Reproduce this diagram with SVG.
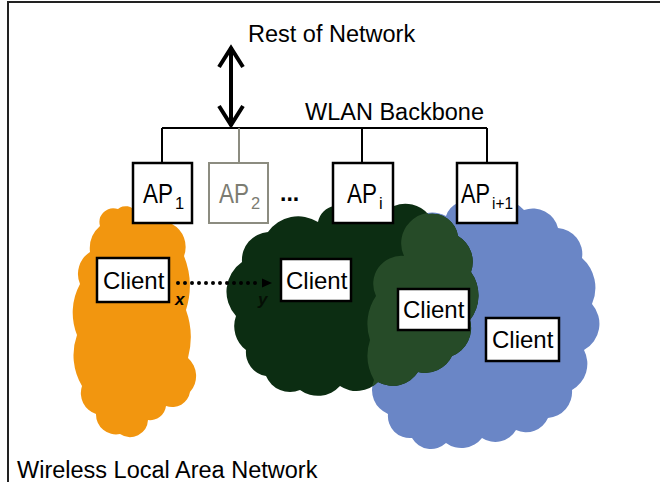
<svg xmlns="http://www.w3.org/2000/svg" xmlns:xlink="http://www.w3.org/1999/xlink" width="660" height="482" viewBox="0 0 660 482">
<style>
text{font-family:"Liberation Sans",Arial,sans-serif;fill:#000}
.big{font-size:23.5px}
.ap{font-size:28px}
.sub{font-size:16.5px}
.cl{font-size:24px}
.box{fill:#fff;stroke:#000;stroke-width:2.5}
.gray{fill:#7c7c72}
.grayBox{fill:#fff;stroke:#8c8c80;stroke-width:2}
.wire{stroke:#000;stroke-width:2;fill:none}
</style>
<defs>
<path id="orangeShape" d="M100 226 A14 14 0 0 1 118 209 A12 12 0 0 1 136 212 A30 30 0 0 1 172 224 A26 26 0 0 1 184 256 A80 80 0 0 1 186 310 A80 80 0 0 1 188 358 A24 24 0 0 1 190 392 A18 18 0 0 1 166 406 A16 16 0 0 1 148 420 A18 18 0 0 1 120 434 A20 20 0 0 1 96 414 A22 22 0 0 1 82 386 A60 60 0 0 1 77 335 A60 60 0 0 1 80 284 A26 26 0 0 1 90 252 A30 30 0 0 1 100 226 Z"/>
<path id="greenShape" d="M242 262 A28 28 0 0 1 268 232 A37 37 0 0 1 318 222 A20 20 0 0 1 334 206 A60 60 0 0 1 394 206 A30 30 0 0 1 428 214 A26 26 0 0 1 458 236 A30 30 0 0 1 471 272 A40 40 0 0 1 470 320 A30 30 0 0 1 452 356 A30 30 0 0 1 418 372 A30 30 0 0 1 378 382 A30 30 0 0 1 340 386 A30 30 0 0 1 300 390 A26 26 0 0 1 266 376 A24 24 0 0 1 246 350 A30 30 0 0 1 236 316 A36 36 0 0 1 242 262 Z"/>
<path id="blueShape" d="M404 256 A30 30 0 0 1 410 222 A30 30 0 0 1 446 216 A22 22 0 0 1 476 203 A40 40 0 0 1 524 210 A26 26 0 0 1 558 228 A26 26 0 0 1 582 258 A40 40 0 0 1 592 304 A30 30 0 0 1 584 350 A30 30 0 0 1 572 390 A26 26 0 0 1 548 418 A24 24 0 0 1 516 430 A24 24 0 0 1 482 438 A26 26 0 0 1 446 443 A22 22 0 0 1 412 438 A22 22 0 0 1 388 414 A26 26 0 0 1 374 380 A50 50 0 0 1 370 340 A50 50 0 0 1 376 296 A28 28 0 0 1 404 256 Z"/>
<clipPath id="greenClip"><use xlink:href="#greenShape"/></clipPath>
<marker id="chev" markerUnits="userSpaceOnUse" markerWidth="40" markerHeight="40" viewBox="-25 -20 40 40" refX="0" refY="0" orient="auto-start-reverse" overflow="visible">
<path d="M-20 -12 L-1 0 L-20 12" fill="none" stroke="#000" stroke-width="4"/>
</marker>
<marker id="tri" markerUnits="userSpaceOnUse" markerWidth="12" markerHeight="12" viewBox="0 -6 12 12" refX="0" refY="0" orient="auto" overflow="visible">
<path d="M0 -4.5 L10 0 L0 4.5 Z" fill="#000"/>
</marker>
</defs>
<rect width="660" height="482" fill="#fff"/>
<g id="frame" fill="none" stroke="#222" stroke-width="2">
<path d="M8 482 V2 H660"/>
</g>
<g id="clouds">
<use id="cloud-ap1" xlink:href="#orangeShape" fill="#f2960f"/>
<use id="cloud-apip1" xlink:href="#blueShape" fill="#6a86c6"/>
<use id="cloud-api" xlink:href="#greenShape" fill="#0c2d12"/>
<use id="cloud-overlap" xlink:href="#blueShape" fill="#264b28" clip-path="url(#greenClip)"/>
</g>
<g id="connectors">
<path class="wire" d="M162 128 H487 M162 128 V163 M362 128 V163 M487 128 V163"/>
<path d="M239 128 V163" stroke="#8c8c80" stroke-width="2" fill="none"/>
<path d="M231 47 V126" stroke="#000" stroke-width="4" fill="none" marker-start="url(#chev)" marker-end="url(#chev)"/>
<path d="M178 283 H262" stroke="#000" stroke-width="4" stroke-linecap="round" stroke-dasharray="0 7" fill="none" marker-end="url(#tri)"/>
</g>
<g id="rest-of-network"><text class="big" x="248" y="42">Rest of Network</text></g>
<g id="backbone-label"><text class="big" x="305" y="120">WLAN Backbone</text></g>
<g id="ap1">
<rect class="box" x="133" y="163" width="59" height="60" stroke-width="2"/>
<text class="ap" x="143" y="203" textLength="30" lengthAdjust="spacingAndGlyphs">AP</text>
<text class="sub" x="175" y="209">1</text>
</g>
<g id="ap2">
<rect class="grayBox" x="209" y="163" width="59" height="60"/>
<text class="ap gray" x="219" y="203" textLength="30" lengthAdjust="spacingAndGlyphs">AP</text>
<text class="sub gray" x="251" y="209">2</text>
</g>
<g id="ellipsis"><text x="280" y="201" style="font-size:23px;font-weight:bold">...</text></g>
<g id="api">
<rect class="box" x="333" y="163" width="60" height="60" stroke-width="2"/>
<text class="ap" x="347" y="203" textLength="30" lengthAdjust="spacingAndGlyphs">AP</text>
<text class="sub" x="379" y="209">i</text>
</g>
<g id="apip1">
<rect class="box" x="457" y="163" width="60" height="60" stroke-width="2"/>
<text class="ap" x="461" y="203" textLength="29" lengthAdjust="spacingAndGlyphs">AP</text>
<text class="sub" x="492" y="209" textLength="21" lengthAdjust="spacingAndGlyphs">i+1</text>
</g>
<g id="client1">
<rect class="box" x="97" y="258" width="72" height="44"/>
<text class="cl" x="103" y="289">Client</text>
</g>
<g id="client2">
<rect class="box" x="281" y="259" width="70" height="42"/>
<text class="cl" x="286" y="289">Client</text>
</g>
<g id="client3">
<rect class="box" x="398" y="289" width="71" height="41"/>
<text class="cl" x="403" y="318">Client</text>
</g>
<g id="client4">
<rect class="box" x="486" y="318" width="73" height="43"/>
<text class="cl" x="492" y="348">Client</text>
</g>
<g id="labels">
<text x="175" y="305" style="font-size:17px;font-weight:bold;font-style:italic">x</text>
<text x="258" y="305" style="font-size:17px;font-weight:bold;font-style:italic;fill:#050f05">y</text>
</g>
<g id="caption"><text class="big" x="17" y="478">Wireless Local Area Network</text></g>
</svg>
